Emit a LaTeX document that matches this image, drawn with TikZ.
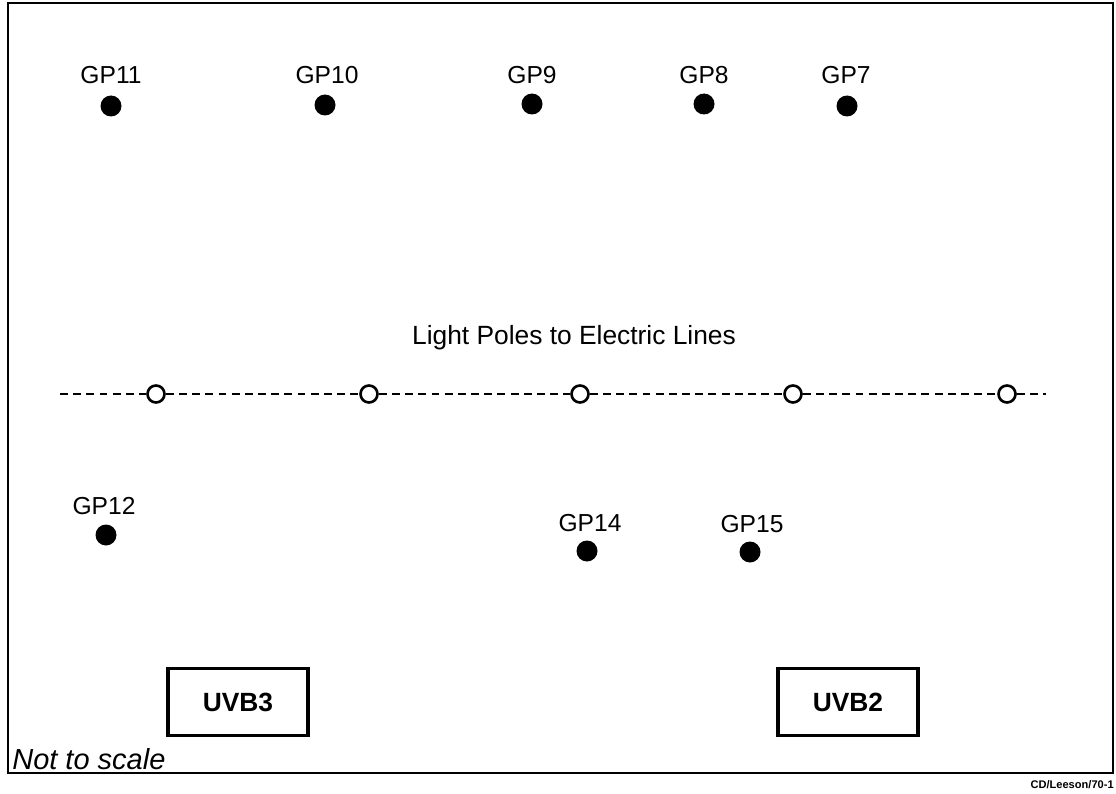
\documentclass[tikz,border=0pt]{standalone}
\usepackage{fontspec}
\setmainfont{Liberation Sans}
\begin{document}
\begin{tikzpicture}[x=0.02cm,y=-0.02cm,
  gp/.style={circle,fill=black,inner sep=0pt,minimum size=21*0.02cm},
  gplabel/.style={font=\fontsize{14}{16}\selectfont,inner sep=0pt},
  pole/.style={circle,draw=black,line width=1.5pt,fill=white,inner sep=0pt,minimum size=17*0.02cm},
  uvb/.style={draw=black,line width=1.8pt,minimum width=140*0.02cm,minimum height=67*0.02cm,font=\fontsize{15}{17}\selectfont\bfseries,inner sep=0pt},
  wire/.style={line width=1.2pt,dash pattern=on 4.5pt off 3pt}]
\useasboundingbox (0,0) rectangle (1116,794);
\draw[line width=1.5pt] (8,3) rectangle (1113,773);
% ground points
\node[gp] (gp11) at (111,106) {};
\node[gp] (gp10) at (325,105) {};
\node[gp] (gp9) at (532,104) {};
\node[gp] (gp8) at (704,104) {};
\node[gp] (gp7) at (847,106) {};
\node[gp] (gp12) at (106,535) {};
\node[gp] (gp14) at (587,551) {};
\node[gp] (gp15) at (750,552) {};
\node[gplabel] (l11) at (111,75) {GP11};
\node[gplabel] (l10) at (327,75) {GP10};
\node[gplabel] (l9) at (532,75) {GP9};
\node[gplabel] (l8) at (704,75) {GP8};
\node[gplabel] (l7) at (846,75) {GP7};
\node[gplabel] (l12) at (104,506) {GP12};
\node[gplabel] (l14) at (590,523) {GP14};
\node[gplabel] (l15) at (752,524) {GP15};
% light poles
\coordinate (wl) at (60,394);
\coordinate (wr) at (1046,394);
\node[pole] (p1) at (156,394) {};
\node[pole] (p2) at (369,394) {};
\node[pole] (p3) at (580,394) {};
\node[pole] (p4) at (793,394) {};
\node[pole] (p5) at (1007,394) {};
\draw[wire] (wl) -- (p1) -- (p2) -- (p3) -- (p4) -- (p5) -- (wr);
\node[font=\fontsize{15}{17}\selectfont,inner sep=0pt] (lp) at (574,338) {Light Poles to Electric Lines};
% UV boxes
\node[uvb] (uvb3) at (238,702) {UVB3};
\node[uvb] (uvb2) at (848,702) {UVB2};
% notes
\node[font=\fontsize{16.5}{19}\selectfont\itshape,anchor=west,inner sep=0pt] (nts) at (12,759) {Not to scale};
\node[font=\fontsize{6.3}{8}\selectfont\bfseries,anchor=east,inner sep=0pt] (ref) at (1114,785) {CD/Leeson/70-1};
\end{tikzpicture}
\end{document}
